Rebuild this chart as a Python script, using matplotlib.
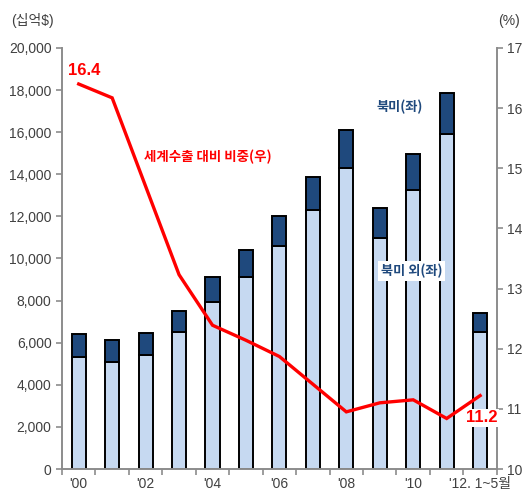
import matplotlib
matplotlib.use('Agg')
import matplotlib.pyplot as plt
import numpy as np

plt.rcParams['font.family'] = ['Liberation Sans', 'Noto Sans CJK KR', 'DejaVu Sans']

years = ["'00", "'01", "'02", "'03", "'04", "'05", "'06", "'07", "'08", "'09", "'10", "'11", "'12. 1~5월"]
non_na = [5330, 5100, 5430, 6510, 7920, 9120, 10590, 12300, 14300, 10990, 13250, 15900, 6520]   # 북미 외 (left)
total = [6420, 6140, 6450, 7510, 9130, 10400, 12020, 13880, 16080, 12380, 14950, 17860, 7430]
share = [16.4, 16.17, 14.7, 13.23, 12.39, 12.14, 11.87, 11.41, 10.95, 11.10, 11.15, 10.84, 11.22]  # 세계수출 대비 비중 (right)

na = [t - n for t, n in zip(total, non_na)]
x = np.arange(len(years))

fig = plt.figure(figsize=(5.23, 4.94), dpi=100)
ax = fig.add_axes([0.1185, 0.0506, 0.8315, 0.8524])

light = '#C6D9F1'
dark = '#1F497D'
gray = '#8C8C8C'
txt = '#404040'
kr = ['Noto Sans CJK KR', 'DejaVu Sans']

ax.bar(x, non_na, width=0.42, color=light, edgecolor='black', linewidth=1.4)
ax.bar(x, na, bottom=non_na, width=0.42, color=dark, edgecolor='black', linewidth=1.4)

ax.set_xlim(-0.5, 12.5)
ax.set_ylim(0, 20000)
ax.set_yticks(range(0, 20001, 2000))
ax.set_yticklabels([f'{v:,}' for v in range(0, 20001, 2000)])
ax.set_xticks(x[::2])
ax.set_xticklabels(years[::2])
ax.set_xticks(np.arange(-0.5, 12.6, 1), minor=True)
ax.tick_params(axis='x', which='major', length=0, pad=6, labelsize=10, colors=txt)
ax.tick_params(axis='x', which='minor', length=4, color=gray, width=1.2)
ax.tick_params(axis='y', length=4, color=gray, width=1.2, labelsize=10, labelcolor=txt)

ax2 = ax.twinx()
ax2.plot(x, share, color='red', linewidth=2.4, solid_joinstyle='miter')
ax2.set_ylim(10, 17)
ax2.set_yticks(range(10, 18))
ax2.tick_params(axis='y', length=4, color=gray, width=1.2, labelsize=10, labelcolor=txt)

for a in (ax, ax2):
    a.spines['top'].set_visible(False)
    for s in ('left', 'right', 'bottom'):
        a.spines[s].set_color(gray)
        a.spines[s].set_linewidth(1.4)
ax.spines['right'].set_visible(False)
ax2.spines['left'].set_visible(False)
ax2.spines['bottom'].set_visible(False)

fig.text(0.022, 0.958, '(십억$)', fontsize=10, color=txt, va='center')
fig.text(0.952, 0.958, '(%)', fontsize=10, color=txt, va='center')

ax2.text(0.16, 16.63, '16.4', color='red', fontsize=12, fontweight='bold', ha='center', va='center')
ax2.text(12.05, 10.85, '11.2', color='red', fontsize=12, fontweight='bold', ha='center', va='center',
         bbox=dict(facecolor='white', edgecolor='none', pad=1))
ax2.text(3.86, 15.19, '세계수출 대비 비중(우)', color='red', fontsize=9.7, fontweight='bold',
         ha='center', va='center', family=kr)
ax2.text(9.6, 16.02, '북미(좌)', color=dark, fontsize=9.5, fontweight='bold', ha='center', va='center', family=kr)
ax2.text(9.96, 13.29, '북미 외(좌)', color=dark, fontsize=9.5, fontweight='bold', ha='center', va='center',
         family=kr, bbox=dict(facecolor='white', edgecolor='none', pad=2))

fig.savefig('out.png', dpi=100)
